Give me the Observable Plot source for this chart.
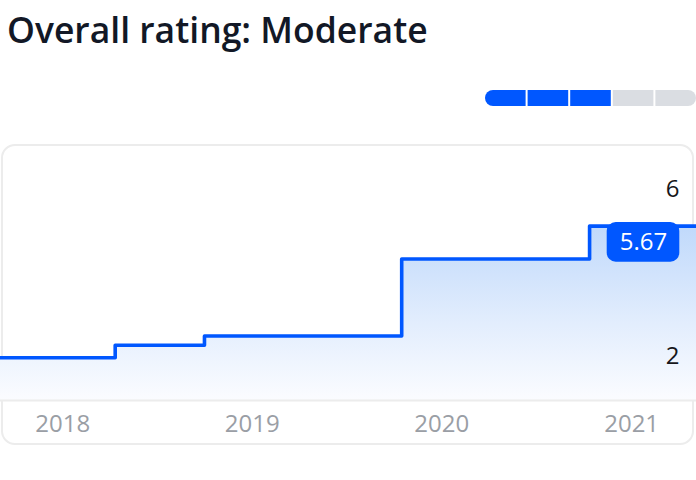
<!DOCTYPE html>
<html><head><meta charset="utf-8">
<script src="https://cdn.jsdelivr.net/npm/d3@7"></script>
<script src="https://cdn.jsdelivr.net/npm/@observablehq/plot@0.6"></script>
<style>
html,body{margin:0;padding:0;background:#fff;}
body{width:696px;height:480px;position:relative;overflow:hidden;font-family:"Open Sans",sans-serif;}
#title{position:absolute;left:7px;top:9px;font-size:35.5px;font-weight:600;color:#121826;line-height:40px;white-space:nowrap;}
#meter{position:absolute;left:485px;top:90px;width:211px;height:16px;border-radius:8px;overflow:hidden;}
#meter svg{display:block;}
#card{position:absolute;left:1px;top:144px;width:689px;height:297px;border:2px solid #ececec;border-radius:14px;}
#chart{position:absolute;left:0;top:144px;}
#chart svg{display:block;}
</style></head><body>
<div id="title"></div>
<div id="meter"></div>
<div id="card"></div>
<div id="chart"></div>
<script>
const titleText = "Overall rating: Moderate";
const meterSegments = [1, 2, 3, 4, 5];
const meterLevel = 3;
const stepDates = ["2017-09-03", "2018-04-12", "2018-10-01", "2019-10-16", "2020-10-12", "2021-05-06"];
const stepValues = [1.67, 2.05, 2.33, 4.67, 5.67, 5.67];
const yearTicks = ["2018-01-01", "2019-01-01", "2020-01-01", "2021-01-01"];
const yTopLabel = [6];
const yBottomLabel = [2];
const latestValue = 5.67;

const BLUE = "#0057ff";
const GRAY = "#dadde2";

document.getElementById("title").textContent = titleText;

// rating meter
const meter = Plot.plot({
  width: 211, height: 16,
  margin: 0,
  x: {domain: [0, 5], range: [-1, 212], axis: null},
  style: {background: "transparent", overflow: "hidden"},
  marks: [
    Plot.barX(meterSegments, {
      x1: d => d - 1, x2: d => d,
      fill: d => d <= meterLevel ? BLUE : GRAY,
      insetLeft: 1, insetRight: 1
    })
  ]
});
document.getElementById("meter").append(meter);

// step chart
const data = stepDates.map((d, i) => ({date: new Date(d), value: stepValues[i]}));
const yMin = 0.37, yMax = 8.15;
const lastDate = data[data.length - 1].date;

const chart = Plot.plot({
  width: 696, height: 301,
  marginTop: 0, marginRight: 0, marginBottom: 45, marginLeft: 0,
  style: {background: "transparent", overflow: "visible", fontFamily: "'Open Sans', sans-serif"},
  x: {type: "utc", domain: [data[0].date, lastDate], axis: null},
  y: {domain: [yMin, yMax], axis: null},
  marks: [
    Plot.areaY(data, {x: "date", y1: yMin, y2: "value", curve: "step-after", fill: "url(#areaGrad)"}),
    Plot.ruleY([yMin], {stroke: "#ececec", strokeWidth: 2}),
    Plot.lineY(data, {x: "date", y: "value", curve: "step-after", stroke: BLUE, strokeWidth: 3.6}),
    Plot.text(yearTicks, {
      x: d => new Date(d), text: d => d.slice(0, 4),
      frameAnchor: "bottom", lineAnchor: "middle", dy: 24,
      fill: "#9a9ea5", fontSize: 24
    }),
    Plot.text(yTopLabel, {
      y: d => d, text: d => String(d), frameAnchor: "right", textAnchor: "end",
      dx: -17, dy: -26, fill: "#16161a", fontSize: 24
    }),
    Plot.text(yBottomLabel, {
      y: d => d, text: d => String(d), frameAnchor: "right", textAnchor: "end",
      dx: -17, dy: 9, fill: "#16161a", fontSize: 24
    }),
    Plot.rect([latestValue], {
      x1: () => lastDate, x2: () => lastDate, y1: d => d, y2: d => d,
      insetLeft: -89.3, insetRight: 16.7, insetTop: -3.6, insetBottom: -36.1,
      rx: 9, fill: BLUE
    }),
    Plot.text([latestValue], {
      x: () => lastDate, y: d => d, text: d => d.toFixed(2),
      dx: -53, dy: 16.2, fill: "#ffffff", fontSize: 24, fontWeight: 500, textAnchor: "middle"
    })
  ]
});

const defs = d3.select(chart).insert("defs", ":first-child");
const grad = defs.append("linearGradient").attr("id", "areaGrad")
  .attr("x1", 0).attr("y1", 0).attr("x2", 0).attr("y2", 1);
grad.append("stop").attr("offset", "0%").attr("stop-color", "#c0d9fb");
grad.append("stop").attr("offset", "55%").attr("stop-color", "#e2edfd");
grad.append("stop").attr("offset", "100%").attr("stop-color", "#fbfcff");

document.getElementById("chart").append(chart);
</script>
</body></html>
